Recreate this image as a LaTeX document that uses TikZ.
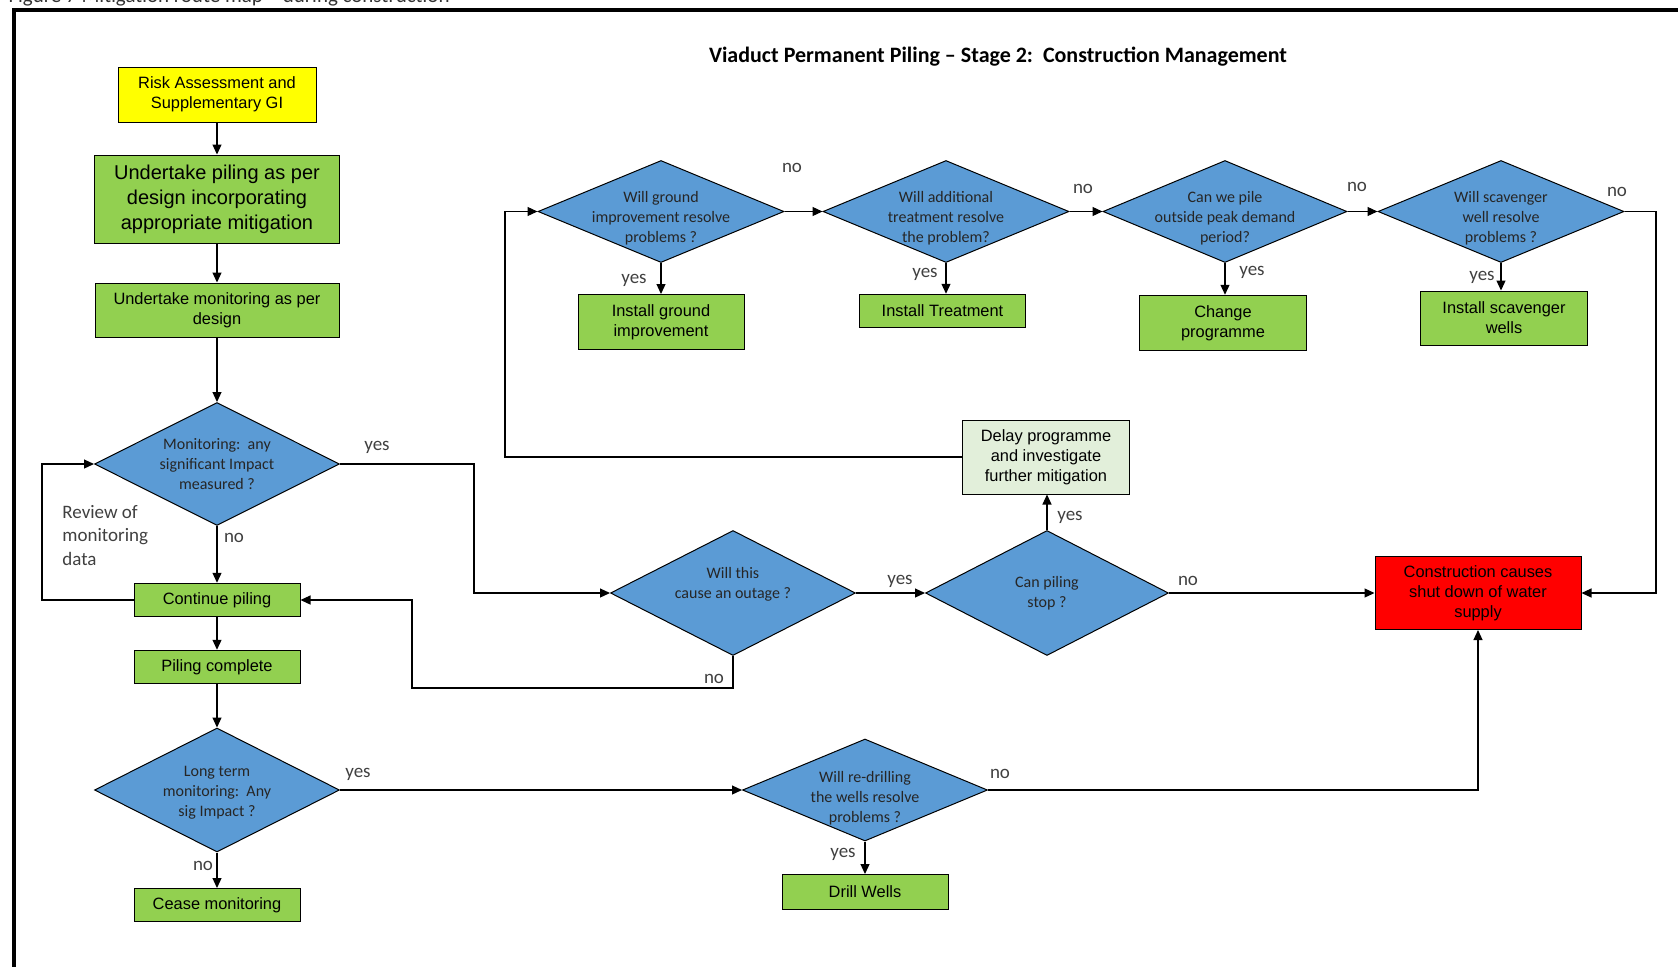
\documentclass[tikz,border=0pt]{standalone}
\usepackage{fontspec}
\setmainfont{Liberation Sans}
\newfontfamily\calibri{Carlito}
\usetikzlibrary{shapes.geometric,arrows.meta,positioning}
\definecolor{diablue}{RGB}{91,155,213}
\definecolor{boxgreen}{RGB}{146,208,80}
\definecolor{palegreen}{RGB}{226,239,218}
\definecolor{riskyellow}{RGB}{255,255,0}
\definecolor{alarmred}{RGB}{255,0,0}
\definecolor{labelgrey}{RGB}{64,64,64}
\tikzstyle{Action}=[shape=rectangle,draw=black,line width=0.5pt,fill=boxgreen,inner sep=1pt,align=center,font=\fontsize{8.2}{10}\selectfont]
\tikzstyle{Decision}=[shape=diamond,draw=black,line width=0.5pt,fill=diablue,inner sep=-3em,align=center,text=black!85,font=\calibri\fontsize{8}{10}\selectfont]
\tikzstyle{flow}=[-{Triangle[length=5pt,width=4.5pt]},line width=0.6pt]
\tikzstyle{answer}=[text=labelgrey,font=\calibri\fontsize{9.5}{11.7}\selectfont,inner sep=0pt]
\newcommand{\dropline}[1]{\rule{0pt}{#1}}
\begin{document}
\begin{tikzpicture}[x=0.5pt,y=-0.5pt]
\useasboundingbox (0,0) rectangle (1678,966);

\begin{scope}
\clip (0,0) rectangle (1678,966);
\node[anchor=base east,inner sep=0pt,font=\calibri\fontsize{10.5}{12}\selectfont,text=black!80] (caption) at (450,2) {Figure 7 Mitigation route map – during construction};
\draw[line width=1.6pt] (14,1000) |- (1700,10);
\end{scope}

\node[font=\calibri\bfseries\fontsize{11}{13}\selectfont] (title) at (998,57) {Viaduct Permanent Piling – Stage 2:\ \ Construction Management};

\node[Action,fill=riskyellow,minimum width=99pt,minimum height=27.5pt] (risk) at (217,94.5) {Risk Assessment and\\Supplementary GI};
\node[Action,minimum width=122.5pt,minimum height=44pt,font=\fontsize{10}{12.5}\selectfont] (pile) at (217,199) {Undertake piling as per\\design incorporating\\appropriate mitigation};
\node[Action,minimum width=122pt,minimum height=27pt] (monitor) at (217,310) {Undertake monitoring as per\\design};
\node[Decision,minimum width=122.5pt,minimum height=61.5pt] (qimpact) at (217,464) {Monitoring:\ \ any\\significant Impact\\measured ?};
\node[Action,minimum width=83pt,minimum height=16.75pt] (cont) at (217,600) {Continue piling};
\node[Action,minimum width=83pt,minimum height=16.75pt] (done) at (217,667) {Piling complete};
\node[Decision,minimum width=122.5pt,minimum height=62pt] (qlong) at (217,790) {\dropline{8pt}Long term\\monitoring:\ \ Any\\sig Impact ?};
\node[Action,minimum width=83pt,minimum height=16.5pt] (cease) at (217,905) {Cease monitoring};

\node[answer,anchor=north west,align=left] (review) at (62,505) {Review of\\monitoring\\data};

\node[Decision,minimum width=122.5pt,minimum height=51pt] (qdrill) at (865,790) {\dropline{14pt}Will re-drilling\\the wells resolve\\problems ?};
\node[Action,minimum width=83pt,minimum height=17.5pt] (drill) at (865,892) {Drill Wells};

\node[Decision,minimum width=122.5pt,minimum height=62.5pt] (qoutage) at (733,593) {Will this\\cause an outage ?\\~};
\node[Decision,minimum width=121.5pt,minimum height=62.5pt] (qstop) at (1047,593) {Can piling\\stop ?};
\node[Action,fill=palegreen,minimum width=83.25pt,minimum height=37pt] (delay) at (1046,457) {Delay programme\\and investigate\\further mitigation};
\node[Action,fill=alarmred,minimum width=103pt,minimum height=36.5pt] (shut) at (1478,593) {Construction causes\\shut down of water\\supply};

\node[Decision,minimum width=123pt,minimum height=51pt] (qground) at (661,211.5) {\dropline{12pt}Will ground\\improvement resolve\\problems ?};
\node[Action,minimum width=83pt,minimum height=27.5pt] (ground) at (661,322) {Install ground\\improvement};
\node[Decision,minimum width=123pt,minimum height=51pt] (qtreat) at (946,211.5) {\dropline{12pt}Will additional\\treatment resolve\\the problem?};
\node[Action,minimum width=83pt,minimum height=16.75pt] (treat) at (942.5,311) {Install Treatment};
\node[Decision,minimum width=122pt,minimum height=51pt] (qpeak) at (1225,211.5) {\dropline{12pt}Can we pile\\outside peak demand\\period?};
\node[Action,minimum width=83.5pt,minimum height=27.75pt] (change) at (1223,323) {Change\\programme};
\node[Decision,minimum width=123pt,minimum height=51pt] (qscav) at (1501,211.5) {\dropline{12pt}Will scavenger\\well resolve\\problems ?};
\node[Action,minimum width=83.5pt,minimum height=27pt] (scav) at (1504,318) {Install scavenger\\wells};

\node[answer] (yimpact) at (377,447) {yes};
\node[answer] (nimpact) at (234,538) {no};
\node[answer] (youtage) at (900,581) {yes};
\node[answer] (noutage) at (714,679) {no};
\node[answer] (ystop) at (1070,517) {yes};
\node[answer] (nstop) at (1188,581) {no};
\node[answer] (ylong) at (358,774) {yes};
\node[answer] (nlong) at (203,866) {no};
\node[answer] (ydrill) at (843,854) {yes};
\node[answer] (ndrill) at (1000,774) {no};
\node[answer] (nground) at (792,168) {no};
\node[answer] (yground) at (634,280) {yes};
\node[answer] (ntreat) at (1083,189) {no};
\node[answer] (ytreat) at (925,274) {yes};
\node[answer] (npeak) at (1357,187) {no};
\node[answer] (ypeak) at (1252,272) {yes};
\node[answer] (nscav) at (1617,192) {no};
\node[answer] (yscav) at (1482,277) {yes};

\path
(risk) edge [flow] (pile)
(pile) edge [flow] (monitor)
(monitor) edge [flow] (qimpact)
(qimpact) edge [flow] (cont)
(cont) edge [flow] (done)
(done) edge [flow] (qlong)
(qlong) edge [flow] (cease)
(qlong) edge [flow] (qdrill)
(qdrill) edge [flow] (drill)
(qoutage) edge [flow] (qstop)
(qstop.north) edge [flow] (qstop.north |- delay.south)
(qstop) edge [flow] (shut)
(qground) edge [flow] (ground)
(qground) edge [flow] (qtreat)
(qtreat.south) edge [flow] (qtreat.south |- treat.north)
(qtreat) edge [flow] (qpeak)
(qpeak.south) edge [flow] (qpeak.south |- change.north)
(qpeak) edge [flow] (qscav)
(qscav.south) edge [flow] (qscav.south |- scav.north);

\draw[flow] (cont.west) -| (42,464) -- (qimpact.west);
\draw[flow] (qimpact.east) -| (474,593) -- (qoutage.west);
\draw[flow] (qoutage.south) |- (412,688) |- (cont.east);
\draw[flow] (delay.west) -| (505,211.5) -- (qground.west);
\draw[flow] (qscav.east) -| (1656,593) -- (shut.east);
\draw[flow] (qdrill.east) -| (shut.south);

\end{tikzpicture}
\end{document}
